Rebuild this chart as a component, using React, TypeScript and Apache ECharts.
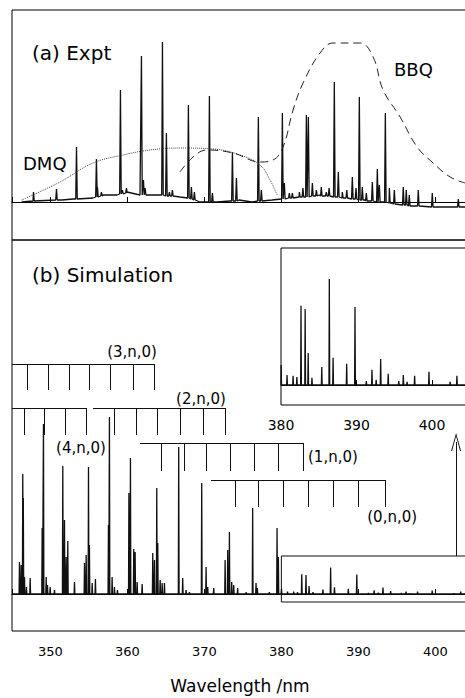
import React, { useEffect, useRef } from "react";
import * as echarts from "echarts";

const FONT = '"DejaVu Sans", "Liberation Sans", Arial, sans-serif';

// (a) Experiment: peaks [wavelength nm, local baseline, peak top] (arb. units)
const exptPeaks: [number, number, number][] = [
  [347.79, 1, 10], [350.78, 2, 13], [353.38, 3, 55], [355.97, 5, 43], [356.1, 5, 15],
  [356.62, 6, 10], [359.09, 8, 112], [359.35, 8, 12], [359.87, 9, 14], [361.82, 7, 146],
  [362.08, 7, 22], [362.3, 7, 14], [364.55, 7, 160], [365.06, 6, 69], [365.45, 6, 10],
  [365.84, 6, 12], [367.92, 4, 97], [368.31, 3, 15], [368.7, 2, 10], [370.65, 0, 106],
  [371.04, 0, 9], [373.64, 1, 50], [374.16, 1, 24], [377.01, 1, 85], [377.4, 1, 12],
  [380.13, 3, 89], [380.39, 3, 19], [381.04, 4, 9], [381.43, 4, 9], [382.34, 5, 10],
  [382.8, 5, 14], [383.25, 5, 87], [383.51, 5, 85], [384.03, 6, 19], [384.55, 6, 12],
  [385.19, 6, 15], [385.84, 6, 10], [386.2, 6, 14], [386.88, 5, 120], [387.4, 5, 30],
  [387.92, 4, 10], [388.5, 4, 12], [389.22, 3, 25], [389.7, 3, 14], [390.13, 2, 105],
  [390.52, 2, 15], [391.04, 1, 9], [391.82, 1, 20], [392.47, 0, 33], [392.73, 0, 17],
  [393.51, 0, 89], [394.03, -1, 14], [394.68, -2, 12], [395.84, -3, 15], [396.23, -3, 12],
  [396.62, -4, 7], [397.79, -4, 12], [399.61, -5, 9], [402.99, -5, 3],
];
// (a) Experiment: baseline between the peaks [wavelength nm, level]
const exptBaseline: [number, number][] = [
  [346.26, 0], [347.73, 1], [351.5, 2], [352.93, 3], [355.53, 4], [356.83, 7], [358.65, 7],
  [359.94, 10], [361.63, 7], [363.84, 7], [366.83, 5], [369.43, 0], [371.64, 0], [373.33, 1],
  [374.5, 2], [376.19, 0], [378.79, 2], [382.3, 5], [384.9, 7], [387.88, 4], [390.87, 2],
  [393.99, -1], [396.98, -4], [400.49, -5], [404.25, -5],
];
// DMQ dotted envelope and BBQ dashed envelope [wavelength nm, level]
const dmqEnvelope: [number, number][] = [
  [346.26, 2], [351.24, 20], [355.53, 39], [359.43, 47], [362.93, 52], [366.83, 54],
  [371.12, 53], [374.63, 47], [377.23, 37], [378.53, 22], [379.44, 7],
];
const bbqEnvelope: [number, number][] = [
  [366.83, 30], [368.52, 45], [370.34, 52], [373.72, 49], [377.23, 40], [378.92, 42],
  [380.22, 55], [381.52, 92], [382.82, 119], [385.03, 149], [386.72, 159], [390.23, 159],
  [391.92, 145], [393.22, 112], [395.43, 85], [397.64, 55], [399.72, 39], [401.93, 25],
  [403.88, 19],
];

// (b) Simulation: stick peaks [wavelength nm, intensity]
const simPeaks: [number, number][] = [
  [345.97, 32], [346.19, 29], [346.4, 120], [346.47, 96], [346.62, 17], [346.88, 7], [347.36, 16],
  [348.92, 66], [349.09, 170], [349.44, 17], [349.61, 9], [349.96, 7], [350.52, 4],
  [351.6, 128], [351.82, 74], [352.04, 37], [352.25, 53], [353.12, 12],
  [354.42, 31], [354.64, 39], [354.94, 127], [355.06, 49], [355.42, 11], [355.84, 15],
  [357.53, 69], [357.66, 177], [358.01, 17], [358.31, 7], [358.7, 4],
  [360.19, 101], [360.39, 136], [360.82, 45], [361.0, 42], [361.26, 12], [361.91, 10],
  [363.29, 41], [363.51, 34], [363.81, 106], [363.94, 51], [364.25, 14], [364.51, 11], [364.81, 11],
  [366.66, 147], [367.18, 16], [367.62, 4], [368.05, 2],
  [369.65, 111], [370.22, 27], [370.43, 7], [371.21, 6],
  [372.69, 34], [373.03, 44], [373.25, 62], [373.55, 12], [373.81, 9], [374.32, 6],
  [375.42, 2], [376.27, 86], [376.71, 11], [376.88, 6], [378.44, 2],
  [379.44, 66], [379.61, 37],
  [380.02, 5], [380.8, 2.5], [381.6, 2.3], [382.1, 2], [382.65, 19.8], [383.2, 19], [383.6, 8],
  [384.1, 1.8], [385.4, 4.5], [386.4, 26.5], [386.9, 6.8], [388.7, 5.3], [389.8, 19.5],
  [391.3, 1], [392.05, 3.8], [392.6, 1.3], [393.2, 6.5], [394.2, 2.8], [395.6, 1], [396.2, 2.5],
  [396.7, 0.8], [397.7, 2.3], [399.6, 3.3], [402.4, 0.8], [403.3, 2.3],
];

// Assignment ladders: tick wavelengths (nm)
const ladder3Ticks = [347.04, 349.72, 352.41, 355.05, 357.74, 360.69, 363.45];
const ladder4Ticks = [346.56, 349.2, 351.89, 354.62];
const ladder2Ticks = [358.26, 361.08, 363.93, 366.83, 369.86, 372.77];
const ladder1Ticks = [364.45, 367.39, 370.3, 373.33, 376.45, 379.61, 382.86];
const ladder0Ticks = [373.98, 377.01, 380.18, 383.43, 386.68, 390.0, 393.47];
// horizontal bar start (nm) of each ladder: 3, 4, 2, 1, 0
const ladderStarts = [345, 345, 355.53, 361.63, 370.86];
// bar level and tick foot level (intensity units) of each ladder: 3, 4, 2, 1, 0
const ladderLevels = [[230, 204], [186, 159], [186, 159], [151, 123], [114, 87]];
const ladderNames = ["(3,n,0)", "(4,n,0)", "(2,n,0)", "(1,n,0)", "(0,n,0)"];
const ladderLabelAt: [number, number][] = [
  [360.6, 242], [353.97, 146], [369.56, 195], [386.7, 137], [394.4, 77],
];

// zoom box (nm, intensity) and arrow (nm, from-to)
const zoomBox: [[number, number], [number, number]] = [[380, -8], [404.25, 38]];
const arrowLine: [[number, number], [number, number]] = [[402.7, 38], [402.7, 152]];

function buildExpt(): number[][] {
  const items: { x: number; pts: number[][] }[] = [];
  exptBaseline.forEach(([l, v]) => items.push({ x: l, pts: [[l, v]] }));
  exptPeaks.forEach(([l, b, t]) =>
    items.push({ x: l, pts: [[l - 0.1, b], [l, t], [l + 0.1, b]] })
  );
  items.sort((a, b) => a.x - b.x);
  return items.flatMap((i) => i.pts);
}

function buildSim(peaks: [number, number][], start: number, end: number): number[][] {
  const pts: number[][] = [[start, 0]];
  [...peaks]
    .sort((a, b) => a[0] - b[0])
    .forEach(([l, h]) => {
      pts.push([l - 0.05, 0], [l, h], [l + 0.05, 0]);
    });
  pts.push([end, 0]);
  return pts;
}

const CHEVRON = "path://M0,18 L5,0 L10,18 L9,18 L5,3.2 L1,18 Z";

export default function App() {
  const ref = useRef<HTMLDivElement>(null);

  useEffect(() => {
    if (!ref.current) return;
    const chart = echarts.init(ref.current, undefined, { renderer: "svg" });

    const ladderTicks = [ladder3Ticks, ladder4Ticks, ladder2Ticks, ladder1Ticks, ladder0Ticks];
    const ladderLines: any[] = [];
    ladderTicks.forEach((ticks, i) => {
      const [lvl, foot] = ladderLevels[i];
      const end = ticks[ticks.length - 1];
      ladderLines.push([{ coord: [ladderStarts[i], lvl] }, { coord: [end, lvl] }]);
      ticks.forEach((t) => ladderLines.push([{ coord: [t, lvl] }, { coord: [t, foot] }]));
    });
    ladderLines.push([
      { coord: arrowLine[0], symbol: "none" },
      { coord: arrowLine[1], symbol: CHEVRON, symbolSize: [10, 18] },
    ]);

    const hideOdd = (v: number) => (Math.abs(v % 10) < 1e-6 ? String(v) : "");

    const baseX = {
      type: "value",
      min: 345,
      max: 404.25,
      minInterval: 10,
      maxInterval: 10,
      splitLine: { show: false },
      axisLine: { show: true, lineStyle: { color: "#000", width: 1 } },
      axisTick: { show: true, inside: true, length: 5, lineStyle: { color: "#000" } },
    };

    const gridBase = {
      show: true,
      borderColor: "#000",
      borderWidth: 1,
      containLabel: false,
      outerBoundsMode: "none",
    };

    const option: any = {
      animation: false,
      backgroundColor: "#fff",
      textStyle: { fontFamily: FONT },
      grid: [
        { ...gridBase, left: 12, top: 10, width: 456, height: 230 },
        { ...gridBase, left: 12, top: 240, width: 456, height: 391 },
        { ...gridBase, left: 281, top: 248, width: 188, height: 157, backgroundColor: "#fff" },
      ],
      xAxis: [
        { ...baseX, gridIndex: 0, axisLabel: { show: false } },
        {
          ...baseX,
          gridIndex: 1,
          axisLabel: { show: true, formatter: hideOdd, color: "#000", fontSize: 13, margin: 14, fontFamily: FONT },
          name: "Wavelength /nm",
          nameLocation: "middle",
          nameGap: 46,
          nameTextStyle: { color: "#000", fontSize: 17, fontFamily: FONT },
        },
        {
          ...baseX,
          gridIndex: 2,
          min: 380,
          max: 404.9,
          interval: 10,
          minInterval: undefined,
          maxInterval: undefined,
          axisLabel: { show: true, formatter: hideOdd, color: "#000", fontSize: 14, margin: 13, fontFamily: FONT },
        },
      ],
      yAxis: [
        { type: "value", gridIndex: 0, min: -38, max: 192, show: false },
        { type: "value", gridIndex: 1, min: -37, max: 354, show: false },
        { type: "value", gridIndex: 2, min: -5, max: 34.25, show: false },
      ],
      graphic: [
        { type: "text", x: 32, y: 53, style: { text: "(a) Expt", fontSize: 20, fontFamily: FONT, fill: "#000", verticalAlign: "middle" } },
        { type: "text", x: 23, y: 163, style: { text: "DMQ", fontSize: 18, fontFamily: FONT, fill: "#000", verticalAlign: "middle" } },
        { type: "text", x: 394, y: 69, style: { text: "BBQ", fontSize: 18, fontFamily: FONT, fill: "#000", verticalAlign: "middle" } },
        { type: "text", x: 32, y: 275, style: { text: "(b) Simulation", fontSize: 20, fontFamily: FONT, fill: "#000", verticalAlign: "middle" } },
      ],
      series: [
        {
          type: "line",
          xAxisIndex: 0,
          yAxisIndex: 0,
          data: buildExpt(),
          showSymbol: false,
          lineStyle: { color: "#111", width: 1.3 },
          silent: true,
        },
        {
          type: "line",
          xAxisIndex: 0,
          yAxisIndex: 0,
          data: dmqEnvelope,
          smooth: 0.4,
          showSymbol: false,
          lineStyle: { color: "#444", width: 1, type: "dotted" },
          silent: true,
        },
        {
          type: "line",
          xAxisIndex: 0,
          yAxisIndex: 0,
          data: bbqEnvelope,
          smooth: 0.4,
          showSymbol: false,
          lineStyle: { color: "#222", width: 1, type: [8, 5] },
          silent: true,
        },
        {
          type: "line",
          xAxisIndex: 1,
          yAxisIndex: 1,
          data: buildSim(simPeaks, 345, 404.25),
          showSymbol: false,
          lineStyle: { color: "#111", width: 1.3 },
          silent: true,
          markLine: {
            silent: true,
            symbol: ["none", "none"],
            label: { show: false },
            lineStyle: { color: "#111", width: 1, type: "solid" },
            emphasis: { disabled: true },
            data: ladderLines,
          },
          markArea: {
            silent: true,
            label: { show: false },
            itemStyle: { color: "rgba(0,0,0,0)", borderColor: "#111", borderWidth: 1 },
            data: [[{ coord: zoomBox[0] }, { coord: zoomBox[1] }]],
          },
        },
        {
          type: "scatter",
          xAxisIndex: 1,
          yAxisIndex: 1,
          symbolSize: 2,
          itemStyle: { color: "rgba(255,255,255,0)" },
          silent: true,
          data: ladderLabelAt.map((p, i) => [p[0], p[1], ladderNames[i]]),
          label: {
            show: true,
            position: "inside",
            formatter: (p: any) => p.data[2],
            color: "#000",
            opacity: 1,
            textBorderWidth: 0,
            textBorderColor: "transparent",
            fontSize: 15,
            fontFamily: FONT,
          },
        },
        {
          type: "line",
          xAxisIndex: 2,
          yAxisIndex: 2,
          data: buildSim(simPeaks.filter((p) => p[0] >= 379.95), 380, 404.9),
          showSymbol: false,
          lineStyle: { color: "#111", width: 1.3 },
          silent: true,
        },
      ],
    };

    chart.setOption(option);
    return () => chart.dispose();
  }, []);

  return (
    <div
      ref={ref}
      style={{ position: "fixed", left: 0, top: 0, width: 465, height: 698, background: "#fff" }}
    />
  );
}
